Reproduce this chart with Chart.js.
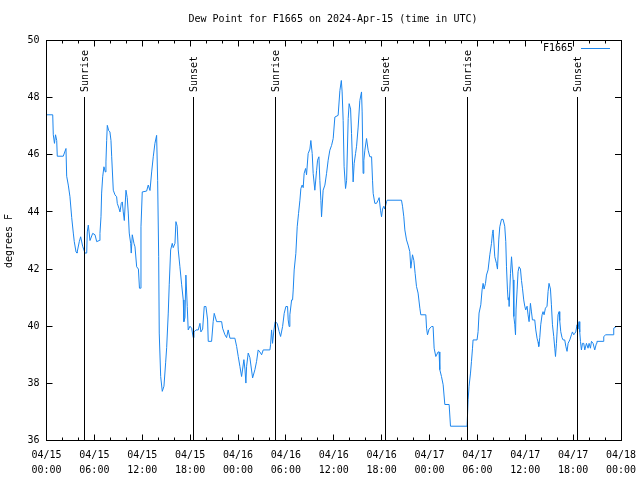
<!DOCTYPE html>
<html>
<head>
<meta charset="utf-8">
<script src="https://cdn.jsdelivr.net/npm/chart.js@4/dist/chart.umd.min.js"></script>
<style>html,body{margin:0;padding:0;background:#fff}</style>
</head>
<body>
<canvas id="chart" width="640" height="480"></canvas>
<script>
// hours since 04/15 00:00 UTC
var hours = [
	0, 0.78, 0.85, 1.00, 1.13, 1.28, 1.35, 2.10, 2.44, 2.53,
	2.73, 2.94, 3.16, 3.36, 3.48, 3.70, 3.82, 4.11, 4.28, 4.53,
	4.82, 5.04, 5.11, 5.24, 5.45, 5.79, 6.08, 6.29, 6.61, 6.70,
	6.83, 6.91, 7.04, 7.20, 7.37, 7.45, 7.54, 7.62, 7.79, 7.95,
	8.08, 8.17, 8.37, 8.58, 8.79, 8.87, 9.08, 9.21, 9.37, 9.50,
	9.62, 9.75, 9.96, 10.12, 10.25, 10.37, 10.55, 10.62, 10.75, 10.96,
	11.09, 11.30, 11.52, 11.65, 11.75, 11.84, 12.00, 12.55, 12.75, 12.97,
	13.18, 13.38, 13.59, 13.80, 13.93, 14.06, 14.13, 14.31, 14.51, 14.72,
	14.93, 15.06, 15.26, 15.38, 15.56, 15.76, 15.88, 16.10, 16.22, 16.38,
	16.51, 16.72, 16.94, 17.14, 17.22, 17.35, 17.47, 17.64, 17.76, 17.98,
	18.19, 18.39, 18.48, 18.73, 19.02, 19.23, 19.35, 19.57, 19.77, 19.98,
	20.19, 20.27, 20.69, 20.89, 21.02, 21.32, 21.95, 22.07, 22.36, 22.57,
	22.77, 22.99, 23.61, 23.83, 24.03, 24.24, 24.45, 24.58, 24.74, 24.87,
	24.99, 25.08, 25.28, 25.49, 25.83, 26.12, 26.33, 26.53, 26.74, 26.96,
	27.16, 28.00, 28.08, 28.21, 28.33, 28.50, 28.66, 28.91, 29.16, 29.34,
	29.59, 29.79, 30.00, 30.21, 30.29, 30.41, 30.50, 30.72, 30.84, 30.92,
	31.04, 31.25, 31.42, 31.59, 31.76, 31.88, 32.04, 32.17, 32.29, 32.47,
	32.59, 32.79, 33.01, 33.13, 33.30, 33.42, 33.63, 33.85, 33.97, 34.14,
	34.26, 34.39, 34.47, 34.67, 34.89, 35.10, 35.30, 35.51, 35.73, 35.93,
	36.14, 36.55, 36.77, 36.95, 37.05, 37.18, 37.30, 37.48, 37.61, 37.81,
	37.93, 38.11, 38.23, 38.36, 38.43, 38.56, 38.73, 38.86, 39.06, 39.27,
	39.48, 39.56, 39.68, 39.77, 39.90, 40.11, 40.31, 40.52, 40.74, 40.86,
	40.94, 41.15, 41.36, 41.56, 41.69, 41.86, 41.99, 42.11, 42.28, 42.40,
	42.62, 42.69, 44.49, 44.62, 44.78, 44.91, 45.12, 45.32, 45.53, 45.66,
	45.87, 46.04, 46.20, 46.37, 46.57, 46.79, 46.91, 47.54, 47.63, 47.75,
	47.95, 48.25, 48.45, 48.58, 48.79, 49.08, 49.20, 49.29, 49.50, 49.71,
	49.92, 50.46, 50.63, 52.71, 52.84, 52.96, 53.14, 53.26, 53.39, 53.46,
	53.96, 54.09, 54.21, 54.43, 54.59, 54.72, 54.84, 55.02, 55.14, 55.34,
	55.56, 55.77, 55.89, 55.97, 56.18, 56.39, 56.52, 56.68, 56.81, 57.02,
	57.22, 57.43, 57.56, 57.65, 57.77, 57.85, 57.94, 57.98, 58.15, 58.28,
	58.48, 58.57, 58.69, 58.78, 58.85, 58.98, 59.10, 59.23, 59.40, 59.53,
	59.65, 59.81, 59.94, 60.06, 60.23, 60.35, 60.48, 60.65, 60.78, 60.90,
	61.19, 61.32, 61.48, 61.60, 61.69, 61.82, 61.94, 62.11, 62.23, 62.36,
	62.53, 62.73, 62.86, 62.98, 63.16, 63.28, 63.41, 63.57, 63.70, 63.79,
	63.91, 63.99, 64.11, 64.24, 64.32, 64.45, 64.61, 64.74, 64.95, 65.08,
	65.24, 65.37, 65.58, 65.79, 65.91, 66.08, 66.20, 66.33, 66.49, 66.62,
	66.74, 66.83, 66.92, 67.04, 67.17, 67.33, 67.46, 67.67, 67.87, 68.00,
	68.17, 68.30, 68.50, 68.71, 68.92, 68.99, 69.75, 69.84, 70.09, 71.00,
	71.09, 71.43, 72.00
];

// dew point, degrees F
var dewF = [
	47.4, 47.4, 46.7, 46.4, 46.7, 46.5, 45.95, 45.95, 46.22, 45.25,
	44.94, 44.53, 43.8, 43.26, 42.96, 42.6, 42.56, 42.96, 43.13, 42.8,
	42.56, 42.56, 43.3, 43.54, 43.0, 43.25, 43.2, 42.96, 43.0, 43.25,
	43.83, 44.66, 45.23, 45.58, 45.4, 45.75, 46.5, 47.03, 46.85, 46.8,
	46.5, 45.93, 44.76, 44.6, 44.53, 44.3, 44.13, 44.0, 44.3, 44.35,
	44.0, 43.7, 44.76, 44.5, 43.96, 43.26, 42.9, 42.56, 43.2, 42.9,
	42.78, 42.08, 42.0, 41.33, 41.33, 43.48, 44.7, 44.73, 44.94, 44.75,
	45.4, 45.93, 46.4, 46.68, 45.1, 42.43, 39.76, 38.24, 37.72, 37.9,
	38.72, 39.25, 40.46, 41.45, 42.67, 42.9, 42.75, 42.9, 43.66, 43.5,
	42.67, 42.08, 41.45, 40.92, 40.16, 40.3, 41.79, 40.69, 39.87, 40.0,
	39.93, 39.6, 39.8, 39.87, 39.87, 40.1, 39.8, 39.9, 40.69, 40.69,
	40.22, 39.47, 39.47, 40.16, 40.45, 40.16, 40.16, 39.93, 39.7, 39.6,
	39.87, 39.58, 39.58, 39.29, 38.94, 38.59, 38.24, 38.5, 38.83, 38.5,
	38.01, 38.6, 39.06, 38.9, 38.19, 38.48, 38.77, 39.17, 39.1, 39.0,
	39.17, 39.17, 39.35, 39.87, 39.4, 39.87, 40.16, 40.1, 39.81, 39.64,
	39.99, 40.45, 40.69, 40.69, 40.22, 39.99, 40.4, 40.92, 40.92, 41.27,
	41.97, 42.55, 43.48, 43.95, 44.41, 44.82, 44.94, 44.85, 45.35, 45.52,
	45.3, 46.04, 46.2, 46.5, 46.04, 45.35, 44.76, 45.45, 45.81, 45.93,
	45.1, 44.4, 43.83, 44.76, 44.94, 45.35, 45.81, 46.16, 46.33, 46.57,
	47.32, 47.38, 48.25, 48.6, 48.2, 47.2, 45.58, 44.82, 45.1, 47.27,
	47.79, 47.6, 46.74, 45.64, 45.05, 45.7, 46.04, 46.3, 46.97, 47.9,
	48.2, 47.5, 45.35, 45.8, 46.16, 46.57, 46.16, 45.93, 45.93, 45.11,
	44.65, 44.3, 44.3, 44.41, 44.5, 44.06, 43.83, 44.1, 44.2, 44.1,
	44.36, 44.41, 44.41, 44.2, 43.83, 43.37, 43.02, 42.84, 42.61, 42.03,
	42.5, 42.3, 41.85, 41.39, 41.16, 40.63, 40.4, 40.4, 39.93, 39.7,
	39.9, 39.99, 39.99, 39.23, 38.94, 39.1, 39.1, 38.48, 38.24, 37.95,
	37.26, 37.26, 36.5, 36.5, 37.43, 37.9, 38.36, 38.77, 39.23, 39.52,
	39.52, 39.81, 40.46, 40.75, 41.27, 41.5, 41.3, 41.5, 41.79, 41.97,
	42.5, 42.9, 43.25, 43.37, 42.43, 42.2, 42.0, 43.02, 43.48, 43.74,
	43.74, 43.5, 42.96, 42.08, 41.27, 40.92, 41.0, 40.69, 41.85, 42.43,
	41.62, 40.34, 40.05, 39.7, 40.6, 41.27, 41.91, 42.08, 42.0, 41.6,
	41.33, 40.92, 40.7, 40.57, 40.7, 40.4, 40.16, 40.8, 40.5, 40.22,
	40.22, 39.87, 39.58, 39.45, 39.29, 39.6, 40.05, 40.4, 40.51, 40.4,
	40.63, 40.7, 41.21, 41.5, 41.3, 40.75, 40.05, 39.64, 39.23, 38.94,
	39.4, 39.8, 40.4, 40.51, 40.2, 39.81, 39.6, 39.52, 39.52, 39.3,
	39.12, 39.4, 39.52, 39.7, 39.8, 39.7, 39.75, 39.8, 40.05, 39.9,
	40.16, 39.8, 39.47, 39.17, 39.4, 39.4, 39.17, 39.4, 39.23, 39.4,
	39.23, 39.47, 39.4, 39.17, 39.4, 39.47, 39.47, 39.64, 39.7, 39.7,
	39.93, 39.99, 39.99
];

var eventHours = [4.76, 18.41, 28.70, 42.46, 52.74, 66.55];
var eventLabels = ['Sunrise', 'Sunset', 'Sunrise', 'Sunset', 'Sunrise', 'Sunset'];
var dayLabels = ['04/15', '04/16', '04/17', '04/18'];

var seriesName = 'F1665';
var titleText = 'Dew Point for F1665 on 2024-Apr-15 (time in UTC)';
var yTitle = 'degrees F';
var lineColor = '#1c86ee';
var FONT = '10px "DejaVu Sans Mono"';

var points = hours.map(function (h, i) {
	return { x: h, y: dewF[i] };
});

function px(v) {
	return Math.floor(v) + 0.5;
}

var frame = {
	id: 'frame',
	afterDraw: function (chart) {
		var ctx = chart.ctx;
		var a = chart.chartArea;
		var xs = chart.scales.x, ys = chart.scales.y;
		ctx.save();
		ctx.strokeStyle = '#000';
		ctx.lineWidth = 1;
		ctx.beginPath();
		// inward tick marks, major every 6h, minor every 2h
		for (var h = 0; h <= 72; h += 2) {
			var x = px(xs.getPixelForValue(h));
			var len = h % 6 === 0 ? 6 : 3;
			ctx.moveTo(x, a.bottom); ctx.lineTo(x, a.bottom - len);
			ctx.moveTo(x, a.top); ctx.lineTo(x, a.top + len);
		}
		for (var v = 36; v <= 50; v += 2) {
			var y = px(ys.getPixelForValue(v));
			ctx.moveTo(a.left, y); ctx.lineTo(a.left + 6, y);
			ctx.moveTo(a.right, y); ctx.lineTo(a.right - 6, y);
		}
		// sunrise / sunset markers
		eventHours.forEach(function (eh) {
			var ex = px(xs.getPixelForValue(eh));
			ctx.moveTo(ex, 97);
			ctx.lineTo(ex, a.bottom);
		});
		ctx.stroke();
		ctx.strokeRect(px(a.left), px(a.top), Math.round(a.right - a.left), Math.round(a.bottom - a.top));

		ctx.fillStyle = '#000';
		ctx.font = FONT;
		ctx.textBaseline = 'middle';
		eventHours.forEach(function (eh, i) {
			var ex = xs.getPixelForValue(eh);
			ctx.save();
			ctx.translate(ex + 1, 92);
			ctx.rotate(-Math.PI / 2);
			ctx.textAlign = 'left';
			ctx.fillText(eventLabels[i], 0, 0);
			ctx.restore();
		});

		// title
		ctx.textAlign = 'center';
		ctx.fillText(titleText, 333, 19);

		// y axis title
		ctx.save();
		ctx.translate(9, 241);
		ctx.rotate(-Math.PI / 2);
		ctx.fillText(yTitle, 0, 0);
		ctx.restore();

		// legend
		ctx.textAlign = 'right';
		ctx.fillText(seriesName, 573, 48);
		ctx.strokeStyle = lineColor;
		ctx.beginPath();
		ctx.moveTo(581, 48.5);
		ctx.lineTo(610, 48.5);
		ctx.stroke();
		ctx.restore();
	}
};

var tickFont = { family: 'DejaVu Sans Mono', size: 10, lineHeight: 1.5 };

new Chart(document.getElementById('chart'), {
	type: 'line',
	data: {
		datasets: [{
			label: seriesName,
			data: points,
			borderColor: lineColor,
			borderWidth: 1,
			pointRadius: 0,
			tension: 0,
			fill: false
		}]
	},
	options: {
		responsive: false,
		animation: false,
		events: [],
		layout: { padding: { top: 40.5, right: 19, bottom: 0, left: 0 } },
		plugins: {
			legend: { display: false },
			tooltip: { enabled: false },
			title: { display: false }
		},
		scales: {
			x: {
				type: 'linear',
				min: 0,
				max: 72,
				afterFit: function (s) {
					s.height = 39.5;
					s.paddingLeft = 0;
					s.paddingRight = 0;
				},
				grid: { display: false, drawTicks: false },
				border: { display: false },
				ticks: {
					stepSize: 6,
					autoSkip: false,
					maxRotation: 0,
					padding: 7,
					color: '#000',
					font: tickFont,
					callback: function (v) {
						var hh = v % 24;
						return [dayLabels[Math.floor(v / 24)], (hh < 10 ? '0' : '') + hh + ':00'];
					}
				}
			},
			y: {
				min: 36,
				max: 50,
				afterFit: function (s) {
					s.width = 46.5;
					s.paddingTop = 0;
					s.paddingBottom = 0;
				},
				grid: { display: false, drawTicks: false },
				border: { display: false },
				ticks: {
					stepSize: 2,
					padding: 7,
					color: '#000',
					font: tickFont
				}
			}
		}
	},
	plugins: [frame]
});
</script>
</body>
</html>
